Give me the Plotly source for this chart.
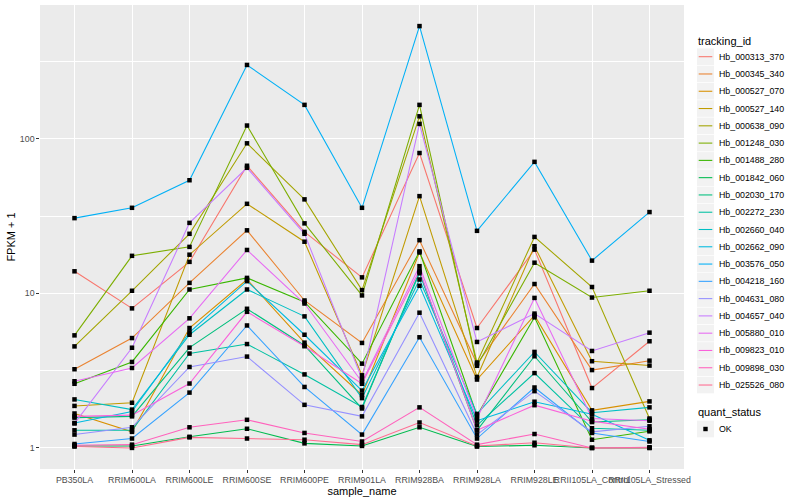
import numpy as np
import plotly.graph_objects as go

samples = ["PB350LA", "RRIM600LA", "RRIM600LE", "RRIM600SE", "RRIM600PE", "RRIM901LA",
           "RRIM928BA", "RRIM928LA", "RRIM928LE", "RRII105LA_Control", "RRII105LA_Stressed"]

tracking_ids = ["Hb_000313_370", "Hb_000345_340", "Hb_000527_070", "Hb_000527_140",
                "Hb_000638_090", "Hb_001248_030", "Hb_001488_280", "Hb_001842_060",
                "Hb_002030_170", "Hb_002272_230", "Hb_002660_040", "Hb_002662_090",
                "Hb_003576_050", "Hb_004218_160", "Hb_004631_080", "Hb_004657_040",
                "Hb_005880_010", "Hb_009823_010", "Hb_009898_030", "Hb_025526_080"]

colors = ["#F8766D", "#EA8331", "#D89000", "#C09B00", "#A3A500", "#7CAE00", "#39B600",
          "#00BB4E", "#00BF7D", "#00C1A3", "#00BFC4", "#00BAE0", "#00B0F6", "#35A2FF",
          "#9590FF", "#C77CFF", "#E76BF3", "#FA62DB", "#FF62BC", "#FF6C91"]

# FPKM + 1 per sample (same order as samples)
Hb_000313_370 = [13.9, 8.0, 16.0, 67, 25.0, 12.7, 81, 5.97, 19.2, 2.44, 4.9]
Hb_000345_340 = [3.23, 5.14, 11.7, 25.6, 9.0, 4.78, 22.1, 3.5, 11.5, 3.19, 3.67]
Hb_000527_070 = [1.67, 1.27, 5.97, 12.3, 4.8, 2.2, 18.4, 2.77, 7.2, 1.75, 2.0]
Hb_000527_140 = [1.87, 1.96, 17.8, 38.0, 21.6, 2.95, 42.6, 2.88, 20.2, 3.64, 3.41]
Hb_000638_090 = [4.54, 10.4, 24.3, 93.6, 40.6, 10.5, 140, 3.57, 23.2, 11.0, 1.55]
Hb_001248_030 = [5.35, 17.5, 20.0, 122, 28.4, 9.7, 166, 3.4, 15.8, 9.4, 10.4]
Hb_001488_280 = [2.6, 3.6, 10.6, 12.6, 8.8, 3.51, 18.7, 1.62, 7.0, 1.13, 1.28]
Hb_001842_060 = [1.03, 1.03, 1.18, 1.33, 1.07, 1.03, 1.36, 1.02, 1.04, 1.0, 1.0]
Hb_002030_170 = [1.57, 1.6, 4.46, 7.95, 4.6, 1.8, 13.8, 1.3, 3.92, 1.47, 1.52]
Hb_002272_230 = [1.3, 1.3, 4.08, 4.7, 2.99, 1.84, 13.5, 1.4, 3.05, 1.34, 1.3]
Hb_002660_040 = [2.06, 1.77, 5.4, 10.6, 7.1, 2.1, 12.3, 1.66, 4.18, 1.69, 1.83]
Hb_002662_090 = [1.45, 1.72, 5.6, 12.0, 5.4, 2.35, 11.2, 1.5, 1.99, 1.65, 1.12]
Hb_003576_050 = [30.7, 35.8, 54, 301, 166, 35.8, 537, 25.4, 71, 16.3, 33.6]
Hb_004218_160 = [1.06, 1.15, 2.28, 6.2, 2.48, 1.22, 5.2, 1.15, 2.46, 1.25, 1.1]
Hb_004631_080 = [1.22, 1.36, 3.34, 3.9, 1.9, 1.6, 7.5, 1.22, 2.33, 1.27, 1.38]
Hb_004657_040 = [1.44, 4.45, 28.6, 65, 24.3, 2.8, 125, 4.85, 7.4, 4.24, 5.57]
Hb_005880_010 = [2.7, 3.29, 6.9, 19.1, 8.6, 2.67, 15.0, 1.55, 9.35, 1.55, 1.5]
Hb_009823_010 = [1.6, 1.63, 2.61, 7.6, 4.55, 2.6, 14.1, 1.3, 1.89, 1.49, 1.32]
Hb_009898_030 = [1.04, 1.05, 1.36, 1.52, 1.25, 1.1, 1.83, 1.05, 1.23, 1.0, 1.01]
Hb_025526_080 = [1.02, 1.0, 1.17, 1.15, 1.13, 1.05, 1.46, 1.03, 1.08, 1.0, 1.0]

series_values = [Hb_000313_370, Hb_000345_340, Hb_000527_070, Hb_000527_140, Hb_000638_090,
                 Hb_001248_030, Hb_001488_280, Hb_001842_060, Hb_002030_170, Hb_002272_230,
                 Hb_002660_040, Hb_002662_090, Hb_003576_050, Hb_004218_160, Hb_004631_080,
                 Hb_004657_040, Hb_005880_010, Hb_009823_010, Hb_009898_030, Hb_025526_080]

quant_status = ["OK"]

FONT = "Liberation Sans, Arial, Helvetica, sans-serif"
W, H = 800, 500
ML, MR, MT, MB = 40, 116, 5, 31
PW, PH = W - ML - MR, H - MT - MB

def px(x):
    return (x - ML) / PW

def py(y):
    return (H - MB - y) / PH

fig = go.Figure()

# lines first
for name, vals, col in zip(tracking_ids, series_values, colors):
    fig.add_trace(go.Scatter(x=samples, y=vals, mode="lines", name=name,
                             line=dict(color=col, width=1.07), showlegend=False,
                             hoverinfo="skip"))
# points on top
for name, vals in zip(tracking_ids, series_values):
    fig.add_trace(go.Scatter(x=samples, y=vals, mode="markers", name=name,
                             marker=dict(symbol="square", size=4.5, color="black",
                                         line=dict(width=0)),
                             showlegend=False))

all_vals = np.array(series_values, dtype=float)
lo, hi = np.log10(all_vals.min()), np.log10(all_vals.max())
pad = 0.05 * (hi - lo)

fig.update_layout(
    width=W, height=H,
    margin=dict(l=ML, r=MR, t=MT, b=MB, pad=0),
    paper_bgcolor="white", plot_bgcolor="#EBEBEB",
    font=dict(family=FONT, color="black"),
    xaxis=dict(type="category", categoryorder="array", categoryarray=samples,
               range=[-0.6, len(samples) - 1 + 0.6],
               showgrid=True, gridcolor="white", gridwidth=1.07, zeroline=False,
               showline=False, ticks="outside", ticklen=2.7, tickwidth=1.07,
               tickcolor="#333333", tickangle=0,
               tickfont=dict(size=8.8, color="#4D4D4D", family=FONT),
               title=dict(text="sample_name", font=dict(size=11, color="black", family=FONT),
                          standoff=3),
               automargin=False, fixedrange=True),
    yaxis=dict(type="log", range=[lo - pad, hi + pad],
               tickmode="array", tickvals=[1, 10, 100], ticktext=["1", "10", "100"],
               showgrid=True, gridcolor="white", gridwidth=1.07, zeroline=False,
               showline=False, ticks="outside", ticklen=2.7, tickwidth=1.07,
               tickcolor="#333333", tickfont=dict(size=8.8, color="#4D4D4D", family=FONT),
               minor=dict(tickmode="array", tickvals=[10 ** 0.5, 10 ** 1.5, 10 ** 2.5],
                          showgrid=True, gridcolor="white", gridwidth=0.53, ticklen=0),
               title=dict(text="FPKM + 1", font=dict(size=11, color="black", family=FONT),
                          standoff=2),
               automargin=False, fixedrange=True),
    showlegend=False,
)

# ggplot-style legend drawn in paper space
shapes = []
annotations = []
annotations.append(dict(text="tracking_id", x=px(696), y=py(40.7), xref="paper", yref="paper",
                        xanchor="left", yanchor="middle", showarrow=False,
                        font=dict(size=11, family=FONT, color="black")))
for i, (name, col) in enumerate(zip(tracking_ids, colors)):
    yc = 56.7 + i * 17.28
    shapes.append(dict(type="rect", xref="paper", yref="paper", x0=px(697), x1=px(714),
                       y0=py(yc - 8.3), y1=py(yc + 8.3), fillcolor="#F2F2F2",
                       line=dict(width=0), layer="below"))
    shapes.append(dict(type="line", xref="paper", yref="paper", x0=px(698.7), x1=px(712.3),
                       y0=py(yc), y1=py(yc), line=dict(color=col, width=1.07)))
    annotations.append(dict(text=name, x=px(716.5), y=py(yc), xref="paper", yref="paper",
                            xanchor="left", yanchor="middle", showarrow=False,
                            font=dict(size=8.8, family=FONT, color="black")))

annotations.append(dict(text="quant_status", x=px(696), y=py(412.3), xref="paper", yref="paper",
                        xanchor="left", yanchor="middle", showarrow=False,
                        font=dict(size=11, family=FONT, color="black")))
for j, st in enumerate(quant_status):
    yc = 429 + j * 17.28
    shapes.append(dict(type="rect", xref="paper", yref="paper", x0=px(697), x1=px(714),
                       y0=py(yc - 8.3), y1=py(yc + 8.3), fillcolor="#F2F2F2",
                       line=dict(width=0), layer="below"))
    shapes.append(dict(type="rect", xref="paper", yref="paper", x0=px(703.3), x1=px(707.7),
                       y0=py(yc - 2.2), y1=py(yc + 2.2), fillcolor="black",
                       line=dict(width=0)))
    annotations.append(dict(text=st, x=px(716.5), y=py(yc), xref="paper", yref="paper",
                            xanchor="left", yanchor="middle", showarrow=False,
                            font=dict(size=8.8, family=FONT, color="black")))

fig.update_layout(shapes=shapes, annotations=annotations)

fig.write_html("out.html", config={"displayModeBar": False},
               post_script="document.body.style.margin='0';document.body.style.padding='0';")
